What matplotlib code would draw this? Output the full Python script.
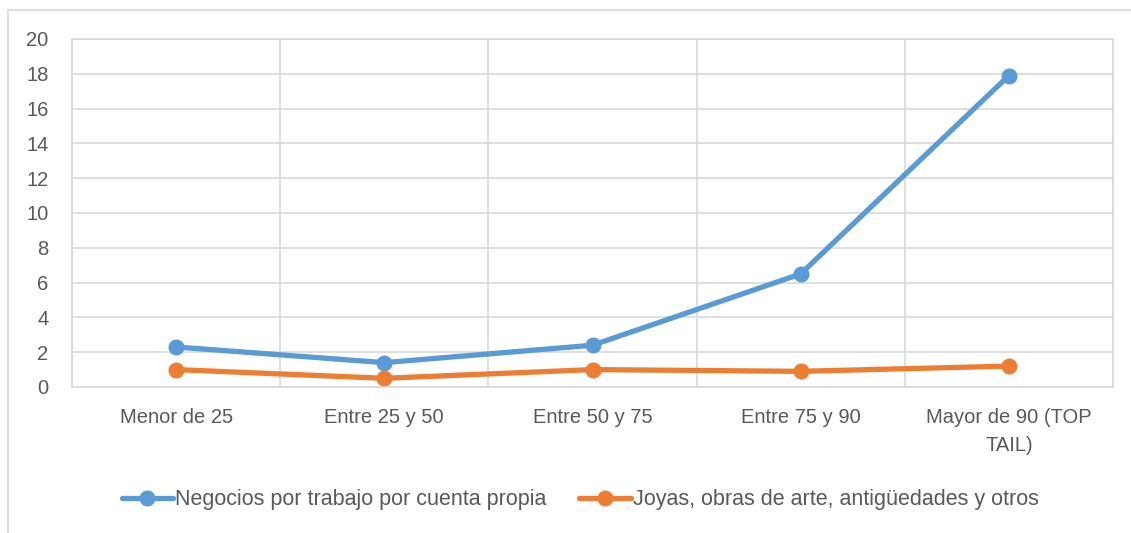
import matplotlib.pyplot as plt
from matplotlib.patches import Rectangle

# data
categorias = ['Menor de 25', 'Entre 25 y 50', 'Entre 50 y 75', 'Entre 75 y 90',
              'Mayor de 90 (TOP\nTAIL)']
negocios = [2.3, 1.4, 2.4, 6.5, 17.9]
joyas = [1.0, 0.5, 1.0, 0.9, 1.2]
series_names = ['Negocios por trabajo por cuenta propia',
                'Joyas, obras de arte, antigüedades y otros']

plt.rcParams['font.family'] = ['Liberation Sans', 'DejaVu Sans']
txt = '#595959'
grid = '#D9D9D9'

W, H = 1131, 533
fig = plt.figure(figsize=(W / 100, H / 100), dpi=100)

# chart border (only left/top visible, the rest is cropped)
fig.patches.append(Rectangle((8 / W, -0.05), 1.1, 1 - 10 / H + 0.05,
                             transform=fig.transFigure, fill=False,
                             edgecolor=grid, linewidth=1.2))

ax = fig.add_axes([72 / W, 1 - 387 / H, (1113 - 72) / W, (387 - 39) / H])
x = list(range(len(categorias)))
ax.plot(x, negocios, color='#5B9BD5', linewidth=3.8, marker='o',
        markersize=10.5, label=series_names[0], solid_capstyle='round')
ax.plot(x, joyas, color='#ED7D31', linewidth=3.8, marker='o',
        markersize=10.5, label=series_names[1], solid_capstyle='round')

ax.set_xlim(-0.5, len(categorias) - 0.5)
ax.set_ylim(0, 20)
ax.set_yticks(range(0, 21, 2))
ax.set_xticks(x)
ax.set_xticklabels(categorias, fontsize=14.5, color=txt, linespacing=1.6)
ax.tick_params(axis='y', labelsize=14.5, labelcolor=txt, length=0, pad=17)
ax.tick_params(axis='x', length=0, pad=15)
ax.set_xticks([i + 0.5 for i in range(-1, len(categorias))], minor=True)
ax.tick_params(axis='x', which='minor', length=0)
ax.grid(True, axis='y', color=grid, linewidth=1.2)
ax.grid(True, axis='x', which='minor', color=grid, linewidth=1.2)
ax.set_axisbelow(True)
for s in ax.spines.values():
    s.set_color(grid)
    s.set_linewidth(1.2)

fig.legend(loc='center', bbox_to_anchor=(0.513, 1 - 500 / H), ncol=2,
           frameon=False, fontsize=15.5, labelcolor=txt, handlelength=2.4,
           handletextpad=0.1, columnspacing=1.5)

fig.savefig('out.png', dpi=100)
